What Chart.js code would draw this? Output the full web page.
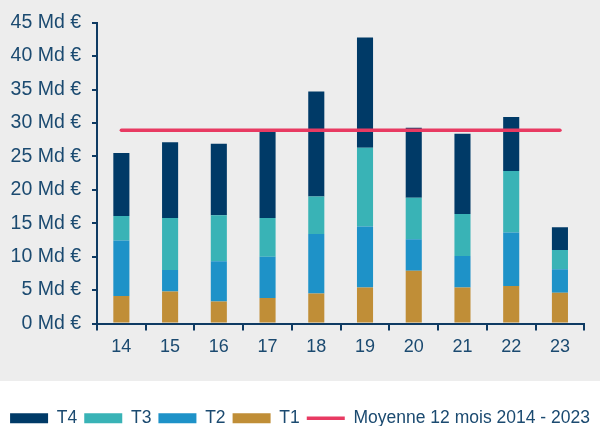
<!DOCTYPE html>
<html>
<head>
<meta charset="utf-8">
<script src="https://cdn.jsdelivr.net/npm/chart.js@4.4.0/dist/chart.umd.min.js"></script>
<style>
  html, body { margin: 0; padding: 0; background: #fff; }
  #wrap { width: 600px; height: 426px; }
</style>
</head>
<body>
<div id="wrap"><canvas id="myChart" width="600" height="426"></canvas></div>
<script>
// values (Md €)
var years = ["14", "15", "16", "17", "18", "19", "20", "21", "22", "23"];
var t1 = [4.1, 4.8, 3.3, 3.8, 4.5, 5.4, 7.9, 5.4, 5.6, 4.6];
var t2 = [8.3, 3.2, 6.0, 6.2, 8.9, 9.1, 4.7, 4.7, 8.0, 3.5];
var t3 = [3.7, 7.8, 6.9, 5.8, 5.6, 11.8, 6.2, 6.3, 9.2, 2.9];
var t4 = [9.4, 11.3, 10.7, 13.1, 15.7, 16.5, 10.5, 12.0, 8.1, 3.4];
var moyenne = [28.9, 28.9, 28.9, 28.9, 28.9, 28.9, 28.9, 28.9, 28.9, 28.9];
var yTicks = [0, 5, 10, 15, 20, 25, 30, 35, 40, 45];

var axisColor = '#0f3b63';
var textColor = '#1b4a70';
var FONT = "'Liberation Sans', Arial, sans-serif";

// grey panel behind the plot, white strip for the legend
var panelBg = {
    id: 'panelBg',
    beforeDraw: function(chart){
        var c = chart.ctx;
        c.save();
        c.fillStyle = '#ffffff';
        c.fillRect(0, 0, chart.width, chart.height);
        c.fillStyle = '#ededed';
        c.fillRect(0, 0, chart.width, 381);
        c.restore();
    }
};

var legendRank = function(i){ return i < 4 ? 3 - i : 4; };

var ctx = document.getElementById("myChart");
var myChart = new Chart(ctx, {
    type: 'bar',
    data: {
        labels: years,
        datasets: [
            { label: 'T1', data: t1, backgroundColor: '#c08e37', pointStyle: 'rect', stack: 'q' },
            { label: 'T2', data: t2, backgroundColor: '#1e92c8', pointStyle: 'rect', stack: 'q' },
            { label: 'T3', data: t3, backgroundColor: '#39b3b6', pointStyle: 'rect', stack: 'q' },
            { label: 'T4', data: t4, backgroundColor: '#003a67', pointStyle: 'rect', stack: 'q' },
            {
                label: 'Moyenne 12 mois 2014 - 2023',
                type: 'line',
                data: moyenne,
                borderColor: '#e83a62',
                backgroundColor: '#e83a62',
                borderWidth: 3.5,
                borderCapStyle: 'round',
                pointRadius: 0,
                pointStyle: 'line',
                stack: 'avg',
                order: -1
            }
        ]
    },
    options: {
        responsive: false,
        animation: false,
        barPercentage: 0.33,
        categoryPercentage: 1,
        layout: { padding: { top: 20, left: 0, right: 0, bottom: -11 } },
        scales: {
            x: {
                stacked: true,
                grid: { display: true, drawOnChartArea: false, offset: true, tickLength: 7, color: axisColor, lineWidth: 2 },
                border: { display: true, color: axisColor, width: 2 },
                ticks: { color: textColor, font: { family: FONT, size: 18 }, padding: 6 },
                afterFit: function(scale){ scale.height = 79; }
            },
            y: {
                stacked: true,
                min: 0,
                max: 45,
                afterBuildTicks: function(scale){
                    scale.ticks = yTicks.map(function(v){ return { value: v }; });
                },
                grid: { display: true, drawOnChartArea: false, tickLength: 5, color: axisColor, lineWidth: 2 },
                border: { display: true, color: axisColor, width: 2 },
                ticks: {
                    color: textColor,
                    font: { family: FONT, size: 19.5 },
                    padding: 11,
                    callback: function(v){ return v + ' Md €'; }
                },
                afterFit: function(scale){ scale.width = 97; }
            },
            // empty right-hand axis, only keeps the plot clear of the right edge
            spacer: {
                position: 'right',
                display: true,
                grid: { display: false },
                border: { display: false },
                ticks: { display: false },
                afterFit: function(scale){ scale.width = 15.7; }
            }
        },
        plugins: {
            tooltip: { enabled: false },
            legend: {
                position: 'bottom',
                labels: {
                    usePointStyle: true,
                    pointStyleWidth: 38,
                    boxHeight: 10,
                    padding: 7,
                    color: textColor,
                    font: { family: FONT, size: 17.5 },
                    sort: function(a, b){ return legendRank(a.datasetIndex) - legendRank(b.datasetIndex); }
                }
            }
        }
    },
    plugins: [panelBg]
});
</script>
</body>
</html>
